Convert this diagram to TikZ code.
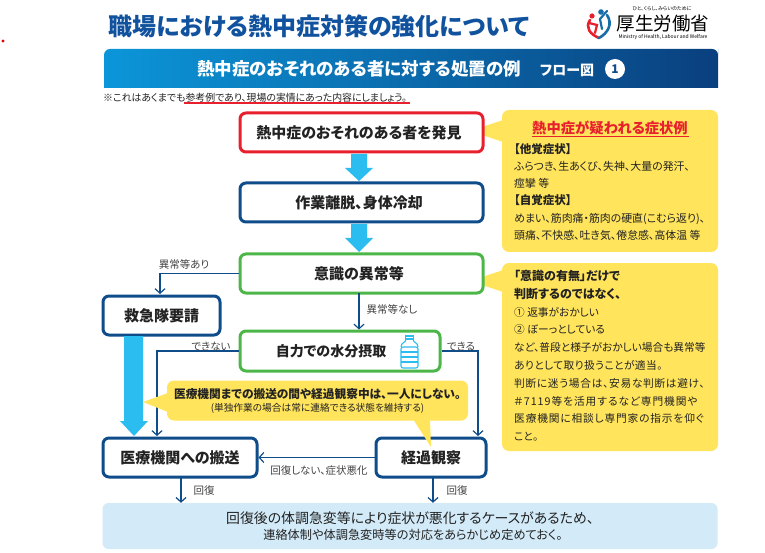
\documentclass[tikz,border=0pt]{standalone}
\usepackage{fontspec}
\setmainfont{Noto Sans CJK JP}[RawFeature=+palt]
\usetikzlibrary{arrows.meta,calc}
\definecolor{navy}{HTML}{0F4C8A}
\definecolor{titleblue}{HTML}{11529E}
\definecolor{alertred}{HTML}{E8202E}
\definecolor{okgreen}{HTML}{4CB748}
\definecolor{skyarrow}{HTML}{2BBDF0}
\definecolor{callout}{HTML}{FFE45C}
\definecolor{paleblue}{HTML}{D3EBF9}
\definecolor{ink}{HTML}{222222}
\definecolor{headleft}{HTML}{0B96D9}
\definecolor{headright}{HTML}{0A3F7E}
\newcommand{\fs}[1]{\fontsize{#1}{#1}\selectfont}
\newcommand{\fa}[1]{\fontsize{#1}{17.3}\selectfont}
\newcommand{\fb}[1]{\fontsize{#1}{17.8}\selectfont}
\newcommand{\spaced}[2]{{\addfontfeature{LetterSpace=#1}#2}}
\tikzset{
  flowbox/.style={draw=navy,line width=3pt,rounded corners=6pt,fill=white,inner sep=0pt,font=\fs{15}\bfseries,text=ink},
  greenbox/.style={flowbox,draw=okgreen},
  redbox/.style={flowbox,draw=alertred},
  link/.style={draw=navy,line width=1.5pt,-{Straight Barb[length=4.5pt,width=10pt,line width=1.2pt]}},
  lab/.style={font=\fs{10.5},text=ink!85,inner sep=0pt},
  bigarrow/.style={fill=skyarrow},
  yellowbox/.style={fill=callout,rounded corners=7pt,inner sep=0pt},
  body/.style={text=ink,align=left,inner sep=0pt,anchor=north west}
}
\begin{document}
\begin{tikzpicture}[x=1pt,y=-1pt]
\useasboundingbox (0,0) rectangle (765,553);
\fill[white] (0,0) rectangle (765,553);
\fill[red!90!black] (3,41) circle (1.6);
% title
\node[font=\fs{24}\bfseries,text=titleblue,inner sep=0pt] (title) at (319,26) {職場における熱中症対策の強化について};
% logo
\draw[line width=2.6pt,alertred,line cap=round] (590,20) .. controls (585,28) and (590,34) .. (599,38);
\draw[line width=2.6pt,navy!70!skyarrow,line cap=round] (607,15) .. controls (613,24) and (608,33) .. (599,38);
\fill[alertred] (592,16) circle (2.6);
\fill[navy!70!skyarrow] (601,12) circle (2.8);
\draw[line width=2.2pt,alertred,line cap=round] (589,23) -- (597,25) -- (595,33);
\draw[line width=2.2pt,navy!70!skyarrow,line cap=round] (607,11) -- (600,19) -- (602,29);
\node[font=\fs{18.5}\mdseries,text=black,inner sep=0pt] (logotext) at (663,24) {厚生労働省};
\node[font=\fs{5},text=black,inner sep=0pt] (logotop) at (662,8.5) {ひと、くらし、みらいのために};
\node[font=\fs{5},text=black,inner sep=0pt] (logobot) at (663,37) {Ministry of Health, Labour and Welfare};
% header
\path[left color=headleft,right color=headright,rounded corners=6pt] (104,88) [sharp corners] -- (104,55) [rounded corners=6pt] -- (104,49) -- (718,49) -- (718,55) [sharp corners] -- (718,88) -- cycle;
\node[font=\fs{17.5}\bfseries,text=white,inner sep=0pt] (headtext) at (359,69) {熱中症のおそれのある者に対する処置の例};
\node[font=\fs{14}\bfseries,text=white,inner sep=0pt] (headflow) at (567,70) {フロー図};
\node[circle,fill=white,minimum size=20pt,inner sep=0pt,font=\fs{12}\bfseries,text=navy] (headnum) at (615,69) {1};
\node[font=\fs{9.9},text=ink,inner sep=0pt,anchor=west] (note) at (103,98) {※これはあくまでも参考例であり、現場の実情にあった内容にしましょう。};
\fill[alertred] (184,102) rectangle (410,104);
% callouts
\fill[callout] (470,131) -- (503,120) -- (503,142) -- cycle;
\node[yellowbox,minimum width=216pt,minimum height=142pt] (calloutA) at (610,181) {};
\node[font=\fs{14.3}\bfseries,text=alertred,inner sep=0pt] (calloutAhead) at (610,128) {熱中症が疑われる症状例};
\fill[alertred] (532,136) rectangle (688.5,136.8);
\node[body,font=\fa{10.9}] (calloutAtext) at (514,143) {\fa{11.5}\bfseries 【他覚症状】\\\fa{10.9}\mdseries ふらつき、生あくび、失神、大量の発汗、\\\fa{10.9}\mdseries 痙攣 等\\\fa{11.5}\bfseries 【自覚症状】\\\fa{10.9}\mdseries めまい、筋肉痛・筋肉の硬直(こむら返り)、\\\fa{10.9}\mdseries 頭痛、不快感、吐き気、倦怠感、高体温 等};
\fill[callout] (470,281) -- (503,270) -- (503,292) -- cycle;
\node[yellowbox,minimum width=216pt,minimum height=188pt] (calloutB) at (610,357) {};
\node[body,font=\fb{10.7}] (calloutBtext) at (514,270) {\fb{12}\bfseries「意識の有無」だけで\\\fb{12}\bfseries 判断するのではなく、\\\fb{10.7}\mdseries ① 返事がおかしい\\\fb{10.7}\mdseries ② ぼーっとしている\\\fb{10.7}\mdseries など、普段と様子がおかしい場合も異常等\\\fb{10.7}\mdseries \spaced{4}{ありとして取り扱うことが適当。}\\\fb{10.7}\mdseries \spaced{6.5}{判断に迷う場合は、安易な判断は避け、}\\\fb{10.7}\mdseries \spaced{9}{＃7119等を活用するなど専門機関や}\\\fb{10.7}\mdseries \spaced{8}{医療機関に相談し専門家の指示を仰ぐ}\\\fb{10.7}\mdseries こと。};
% flow boxes
\node[redbox,minimum width=243pt,minimum height=39pt] (found) at (361.5,132.5) {熱中症のおそれのある者を発見\hspace*{5pt}};
\node[flowbox,minimum width=243pt,minimum height=39pt] (rest) at (361.5,202.5) {作業離脱、身体冷却\hspace*{5pt}};
\node[greenbox,minimum width=243pt,minimum height=39pt] (aware) at (361.5,273.5) {意識の異常等\hspace*{5pt}};
\node[flowbox,minimum width=117pt,minimum height=39pt] (rescue) at (161.5,315.5) {救急隊要請};
\node[greenbox,minimum width=200pt,minimum height=40pt,font=\fs{14}\bfseries] (water) at (340,351) {自力での水分摂取\hspace*{18pt}};
\node[flowbox,minimum width=154pt,minimum height=39pt] (hosp) at (180,457.5) {医療機関への搬送};
\node[flowbox,minimum width=110pt,minimum height=39pt] (watch) at (431,457.5) {経過観察};
\node[fill=paleblue,rounded corners=6pt,minimum width=615pt,minimum height=46pt,inner sep=0pt,align=center] (final) at (410,526) {\fs{13.9}\color{ink}回復後の体調急変等により症状が悪化するケースがあるため、\\[4pt]\fs{12.2}\color{ink}\hspace*{6pt}連絡体制や体調急変時等の対応をあらかじめ定めておく。};
% bottle
\begin{scope}[skyarrow,line width=1.1pt]
\draw[rounded corners=2pt] (401,368) rectangle (418,347);
\draw (401,347) .. controls (401,342) and (406,343) .. (406,339) -- (413,339) .. controls (413,343) and (418,342) .. (418,347);
\draw (405.5,336) rectangle (413.5,339);
\draw (401,352) -- (418,352) (401,357) -- (418,357) (401,362) -- (418,362);
\end{scope}
% big arrows
\fill[bigarrow] (351,154) -- (367,154) -- (367,168) -- (373,168) -- (359,181) -- (345,168) -- (351,168) -- cycle;
\fill[bigarrow] (351,224) -- (367,224) -- (367,238) -- (373,238) -- (359,252) -- (345,238) -- (351,238) -- cycle;
\fill[bigarrow] (124,336) -- (143,336) -- (143,421) -- (148,421) -- (134,436) -- (120,421) -- (124,421) -- cycle;
% free ends
\coordinate (rescuein) at (160,294);
\coordinate (hospin) at (157,436);
\coordinate (watchin) at (478,436);
\coordinate (awareout) at (359,293);
\coordinate (hospout) at (181,477);
\coordinate (watchout) at (433,477);
% links
\draw[link] (aware.west) -| (rescuein);
\draw[link] (awareout) -- (awareout |- water.north);
\draw[link] (water.west) -| (hospin);
\draw[link] (water.east) -| (watchin);
\draw[link] (watch.west) -- (hosp.east);
\draw[link] (hospout) -- (hospout |- final.north);
\draw[link] (watchout) -- (watchout |- final.north);
% middle callout (over links)
\fill[callout] (143,402) -- (168,393) -- (168,412) -- cycle;
\fill[callout] (413,419) -- (431,447) -- (430,419) -- cycle;
\node[yellowbox,minimum width=301pt,minimum height=40pt,align=center] (calloutC) at (317.5,400.5) {\fs{11.7}\bfseries\color{ink}医療機関までの搬送の間や経過観察中は、一人にしない。\\[1pt]\fs{9.7}\mdseries\color{ink}(単独作業の場合は常に連絡できる状態を維持する)};
% labels
\node[lab] (l1) at (184,264) {異常等あり};
\node[lab] (l2) at (392,309) {異常等なし};
\node[lab] (l3) at (211,347) {できない};
\node[lab] (l4) at (461,347) {できる};
\node[lab] (l5) at (319,471) {回復しない、症状悪化};
\node[lab] (l6) at (204,491) {回復};
\node[lab] (l7) at (457,491) {回復};
\end{tikzpicture}
\end{document}
